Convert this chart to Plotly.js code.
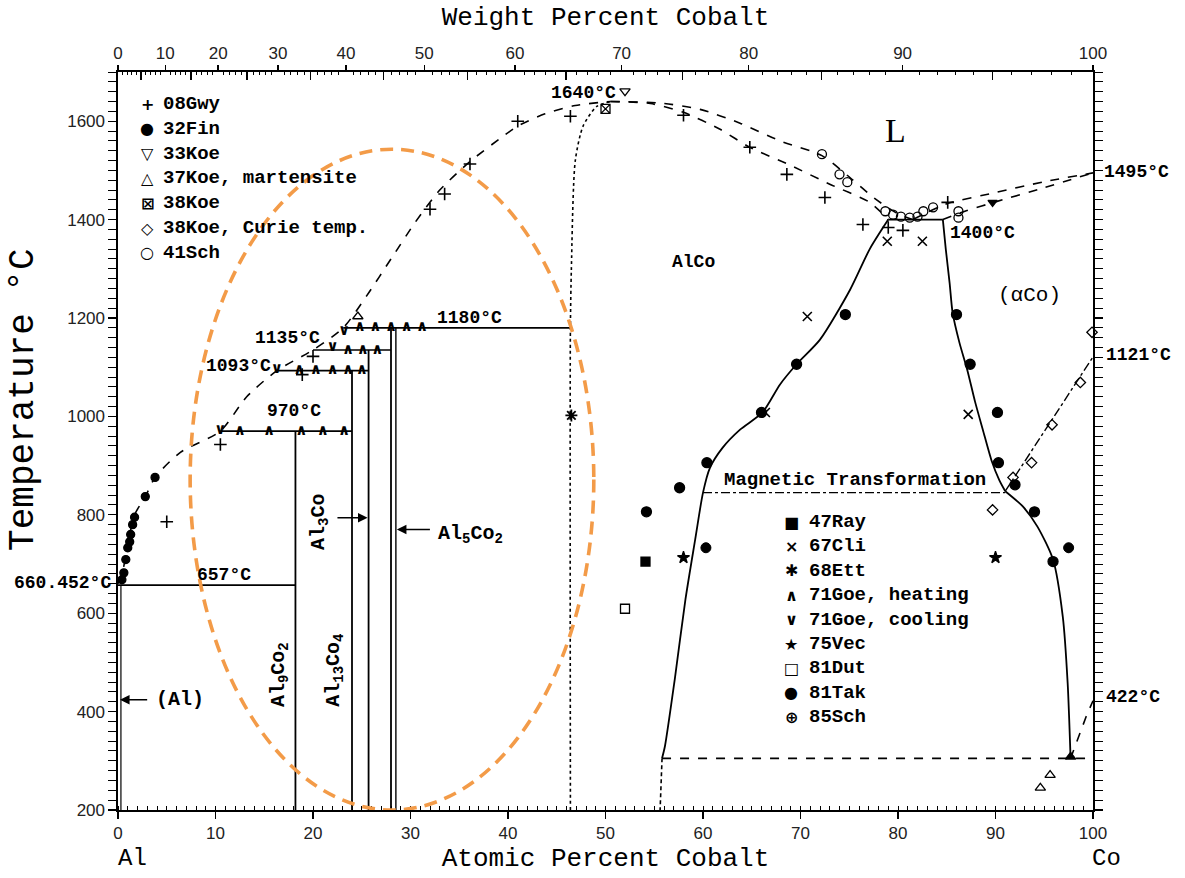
<!DOCTYPE html>
<html><head><meta charset="utf-8">
<script src="https://cdn.plot.ly/plotly-3.0.1.min.js"></script>
<style>html,body{margin:0;padding:0;background:#fff}#chart{width:1185px;height:878px}</style>
</head><body><div id="chart"></div>
<script>
// ---------- phase boundaries (at.% Co, °C) ----------
const liqAlX=[0,0.4,1.0,1.7,2.8,3.8,6.4,10.5,13.2,16.3,20,23.1,25.5,28,30.5,33,36.1,39.2,41,43.8,46.9,50.5];
const liqAlY=[660,678,739,800,837,876,927,970,1040,1093,1135,1180,1245,1320,1395,1460,1518,1565,1590,1615,1632,1640];
const al657X=[0,18.2], al657Y=[657,657];
const alSolvX=[0.3,0.3], alSolvY=[200,657];
const al9co2X=[18.2,18.2], al9co2Y=[200,970];
const per970X=[10.5,24.0], per970Y=[970,970];
const al13aX=[24.0,24.0], al13aY=[200,1093];
const per1093X=[16.3,25.7], per1093Y=[1093,1093];
const al13bX=[25.7,25.7], al13bY=[200,1135];
const per1135X=[20.0,28.0], per1135Y=[1135,1135];
const al5aX=[28.0,28.0], al5aY=[200,1180];
const al5bX=[28.5,28.5], al5bY=[200,1180];
const per1180X=[23.1,46.4], per1180Y=[1180,1180];
const alcoLX=[46.4,46.4,46.5,46.9,47.7,49.1,50.5], alcoLY=[200,1180,1300,1520,1590,1630,1640];
const solAlcoX=[50.5,54.6,58,61.7,64.8,68.9,73,77.1,79], solAlcoY=[1640,1636,1618,1584,1547,1511,1472,1435,1400];
const liqMidX=[50.5,55.6,59.7,63.8,67.9,72.2,75.1,77.6,79.9,81.5], liqMidY=[1640,1637,1624,1596,1560,1530,1485,1443,1413,1400];
const eutX=[79,84.6], eutY=[1400,1400];
const liqCoX=[81.5,85,90,95,100], liqCoY=[1400,1432,1455,1477,1495];
const solCoX=[84.6,87,90,95,100], solCoY=[1400,1418,1436,1465,1495];
const alcoRX=[79,77.1,75.1,72,69.6,67.9,66.1,63.8,62,60.7,60,59.2,58.2,57.1,56.1,55.8];
const alcoRY=[1400,1340,1258,1156,1106,1065,1008,973,936,895,845,750,628,465,330,305];
const alcoLowX=[55.8,55.6], alcoLowY=[305,200];
const acoUpX=[84.6,84.9,85.3,85.6,86.3,87.1,87.9,88.7,89.6,90.4,91.0];
const acoUpY=[1400,1340,1270,1211,1150,1095,1030,973,910,870,848];
const acoLoX=[91.0,92.8,94.3,95.9,96.9,97.4,97.7], acoLoY=[848,817,776,709,593,458,305];
const magX=[60,91], magY=[845,845];
const curieX=[91,100], curieY=[848,1121];
const martX=[55.8,99.7], martY=[305,305];
const hcpX=[97.7,99.3,100], hcpY=[305,390,422];

// ---------- experimental points ----------
const gwyX=[5,10.5,18.9,20,32,33.5,36.1,41,46.4,58,64.8,68.6,72.5,76.4,79,80.5,85.1];
const gwyY=[786,943,1085,1122,1421,1452,1513,1600,1610,1612,1547,1492,1445,1390,1384,1378,1435];
const finX=[0.4,0.6,0.8,1.0,1.2,1.3,1.5,1.7,2.8,3.8];
const finY=[668,682,709,733,745,760,780,795,837,876];
const koe33X=[52], koe33Y=[1661];
const koe37X=[24.6,94.6,95.6], koe37Y=[1203,245,271];
const koe38X=[50], koe38Y=[1625];
const curieDX=[89.7,91.8,93.7,95.8,98.7,99.9], curieDY=[810,876,906,983,1069,1171];
const schX=[72.2,74,74.8,78.7,79.5,80.3,81.2,82.0,82.6,83.6,86.2,86.2];
const schY=[1533,1492,1476,1417,1410,1406,1404,1406,1417,1425,1417,1404];
const rayX=[54.1], rayY=[705];
const cliX=[66.4,70.7,78.9,82.5,87.2], cliY=[1008,1203,1356,1356,1004];
const ettX=[46.5], ettY=[1002];
const goeHX=[12.5,15.5,18.8,21,23.2,18.6,20.3,22,23.6,25,23.6,25.1,26.6,24.8,26.4,28,29.6,31.2];
const goeHY=[970,970,970,970,970,1093,1093,1093,1093,1093,1135,1135,1135,1182,1182,1182,1182,1182];
const goeCX=[10.5,16.3,22.0,23.2], goeCY=[972,1095,1140,1174];
const vecX=[58,90], vecY=[713,713];
const dutX=[52], dutY=[609];
const takX=[54.2,57.6,60.4,66,69.6,74.6,86,87.4,90.2,90.3,92,94,95.9];
const takY=[806,855,906,1008,1106,1207,1207,1106,1008,906,861,806,705];
const sch85X=[60.3,97.5], sch85Y=[733,733];
const triFX=[97.7], triFY=[308];
const tridFX=[89.7], tridFY=[1435];

// ---------- tick labels / legend texts ----------
const wtTicks=[0,10,20,30,40,50,60,70,80,90,100];
const legend1Syms=['+','●','▽','△','⊠','◇','○'];
const legend1Names=['08Gwy','32Fin','33Koe','37Koe, martensite','38Koe','38Koe, Curie temp.','41Sch'];
const legend2Syms=['■','×','✱','∧','∨','★','□','●','⊕'];
const legend2Names=['47Ray','67Cli','68Ett','71Goe, heating','71Goe, cooling','75Vec','81Dut','81Tak','85Sch'];

function wt2at(w){const a=w/58.933,b=(100-w)/26.982;return 100*a/(a+b);}
const wtMajor=wtTicks.map(wt2at);
const wtMinorVals=[];for(let w=1;w<100;w++){if(w%5!==0)wtMinorVals.push(wt2at(w));}
const wtMidVals=[];for(let w=5;w<100;w+=10)wtMidVals.push(wt2at(w));

const K='#000';
function ln(x,y,opt){opt=opt||{};return {x:x,y:y,mode:'lines',type:'scatter',showlegend:false,hoverinfo:'skip',
  xaxis:opt.xa||'x',yaxis:opt.ya||'y',line:{color:K,width:opt.w||1.6,dash:opt.dash||'solid',shape:opt.spline?'spline':'linear',smoothing:0.7},cliponaxis:false};}
function mk(x,y,sym,size,opt){opt=opt||{};return {x:x,y:y,mode:'markers',type:'scatter',showlegend:false,hoverinfo:'skip',cliponaxis:false,
  marker:{symbol:sym,size:size,color:opt.fill||K,line:{color:K,width:opt.lw||1.3}}};}
function tx(x,y,t,size){return {x:x,y:y,mode:'text',type:'scatter',text:x.map(()=>t),showlegend:false,hoverinfo:'skip',cliponaxis:false,
  textposition:'middle center',textfont:{family:'DejaVu Sans',size:size,color:K,weight:'bold'}};}

const traces=[
  ln([],[],{ya:'y2'}),
  ln(liqAlX,liqAlY,{dash:'dash',spline:true}),
  ln(al657X,al657Y),ln(alSolvX,alSolvY,{w:1.2}),
  ln(al9co2X,al9co2Y,{w:1.8}),ln(per970X,per970Y),
  ln(al13aX,al13aY,{w:1.8}),ln(per1093X,per1093Y),
  ln(al13bX,al13bY,{w:1.8}),ln(per1135X,per1135Y),
  ln(al5aX,al5aY,{w:1.8}),ln(al5bX,al5bY,{w:1.4}),ln(per1180X,per1180Y),
  ln(alcoLX,alcoLY,{dash:'3px,3px',spline:true}),
  ln(solAlcoX,solAlcoY,{dash:'dash',spline:true}),
  ln(liqMidX,liqMidY,{dash:'dash',spline:true}),
  ln(eutX,eutY),
  ln(liqCoX,liqCoY,{dash:'dash',spline:true}),
  ln(solCoX,solCoY,{dash:'dash',spline:true}),
  ln(alcoRX,alcoRY,{w:1.8,spline:true}),
  ln(alcoLowX,alcoLowY,{dash:'4px,3px'}),
  ln(acoUpX,acoUpY,{w:1.8,spline:true}),
  ln(acoLoX,acoLoY,{w:1.8,spline:true}),
  ln(magX,magY,{dash:'dashdot',w:1.4,xa:'x2'}),
  ln(curieX,curieY,{dash:'dashdot',w:1.4,xa:'x3'}),
  ln(martX,martY,{dash:'dash',w:1.6}),
  ln(hcpX,hcpY,{dash:'dash',w:1.6}),
  mk(gwyX,gwyY,'cross-thin-open',9,{lw:1.6}),
  mk(finX,finY,'circle',8),
  mk(koe33X,koe33Y,'triangle-down-open',9),
  mk(koe37X,koe37Y,'triangle-up-open',9),
  mk(koe38X,koe38Y,'square-x-open',9),
  mk(curieDX,curieDY,'diamond-open',8),
  mk(schX,schY,'circle-open',9),
  mk(rayX,rayY,'square',9),
  mk(cliX,cliY,'x-thin-open',9,{lw:1.6}),
  mk(ettX,ettY,'asterisk-open',10,{lw:1.8}),
  tx(goeHX,goeHY,'∧',15),
  tx(goeCX,goeCY,'∨',15),
  mk(vecX,vecY,'star',9),
  mk(dutX,dutY,'square-open',9),
  mk(takX,takY,'circle',10),
  mk(sch85X,sch85Y,'circle-cross',10,{fill:K,lw:1}),
  mk(triFX,triFY,'triangle-up',9),
  mk(tridFX,tridFY,'triangle-down',8)
];

const LF={family:'Liberation Mono',size:18,color:K,weight:'bold'};
const BF={family:'Liberation Mono',size:20,color:K,weight:'bold'};
function ann(x,y,t,o){o=o||{};return Object.assign({x:x,y:y,xref:'x',yref:'y',text:t,showarrow:false,font:LF,xanchor:'center',yanchor:'middle'},o);}
// paper-referenced label (for texts outside the axes range): x in at.%, y in °C
function pann(x,y,t,o){o=o||{};return Object.assign({x:x/100,y:(y-200)/1500,xref:'paper',yref:'paper',text:t,showarrow:false,font:LF,xanchor:'center',yanchor:'middle'},o);}
function arrow(x,ax,y){return {x:x,y:y,ax:ax,ay:y,xref:'x',yref:'y',axref:'x',ayref:'y',text:' ',showarrow:true,arrowhead:2,arrowsize:1.2,arrowwidth:1.6,arrowcolor:K};}
const annotations=[
  ann(47.7,1658,'1640°C'),
  ann(79.7,1582,'L',{font:{family:'Liberation Serif',size:34,color:K}}),
  ann(59,1314,'AlCo'),
  ann(93.5,1245,'(αCo)',{font:{family:'Liberation Mono',size:21,color:K}}),
  pann(100.9,1497,'1495°C',{xanchor:'left'}),
  ann(85.1,1373,'1400°C',{xanchor:'left'}),
  pann(101.1,1125,'1121°C',{xanchor:'left'}),
  pann(101.1,430,'422°C',{xanchor:'left'}),
  pann(-0.5,661,'660.452°C',{xanchor:'right'}),
  ann(10.9,678,'657°C'),
  ann(18.05,1012,'970°C'),
  ann(12.4,1103,'1093°C'),
  ann(17.4,1159,'1135°C'),
  ann(36.1,1200,'1180°C'),
  ann(75.6,871,'Magnetic Transformation',{font:{family:'Liberation Mono',size:19,color:K,weight:'bold'}}),
  ann(6.4,424,'(Al)',{font:BF}),
  ann(32.6,760,'Al<sub>5</sub>Co<sub>2</sub>',{xanchor:'left',font:BF}),
  ann(20.6,785,'Al<sub>3</sub>Co',{textangle:-90,font:BF}),
  ann(22.2,484,'Al<sub>13</sub>Co<sub>4</sub>',{textangle:-90,font:BF}),
  ann(16.5,476,'Al<sub>9</sub>Co<sub>2</sub>',{textangle:-90,font:BF}),
  arrow(0.2,3.3,424),
  arrow(25.6,22.2,794),
  arrow(28.6,32.3,770),
  {x:0.015,y:-0.066,xref:'paper',yref:'paper',text:'Al',showarrow:false,xanchor:'center',yanchor:'middle',font:{family:'Liberation Mono',size:24,color:K}},
  {x:1.014,y:-0.066,xref:'paper',yref:'paper',text:'Co',showarrow:false,xanchor:'center',yanchor:'middle',font:{family:'Liberation Mono',size:24,color:K}}
];
const LGF={family:'Liberation Mono',size:19,color:K,weight:'bold'};
const SGF={family:'DejaVu Sans',size:16,color:K,weight:'bold'};
legend1Names.forEach((n,i)=>{
  const py=104+i*24.8, y=(810-py)/738;
  annotations.push({xref:'paper',yref:'paper',x:(147-118)/975,y:y,text:legend1Syms[i],showarrow:false,font:SGF,xanchor:'center',yanchor:'middle'});
  annotations.push({xref:'paper',yref:'paper',x:(161-118)/975,y:y,text:n,showarrow:false,font:LGF,xanchor:'left',yanchor:'middle'});
});
legend2Names.forEach((n,i)=>{
  const py=522+i*24.4, y=(810-py)/738;
  annotations.push({xref:'paper',yref:'paper',x:(791-118)/975,y:y,text:legend2Syms[i],showarrow:false,font:SGF,xanchor:'center',yanchor:'middle'});
  annotations.push({xref:'paper',yref:'paper',x:(807-118)/975,y:y,text:n,showarrow:false,font:LGF,xanchor:'left',yanchor:'middle'});
});

const TF={family:'Liberation Sans',size:17,color:'#222'};
const layout={
  width:1185,height:878,margin:{l:118,r:92,t:72,b:68},
  paper_bgcolor:'#fff',plot_bgcolor:'rgba(0,0,0,0)',showlegend:false,
  font:{family:'Liberation Sans',color:K},
  xaxis:{range:[0,100],tickmode:'linear',tick0:0,dtick:10,ticks:'outside',ticklen:7,tickwidth:1.3,tickcolor:K,
    showline:true,linecolor:K,linewidth:1.6,showgrid:false,zeroline:false,tickfont:TF,
    minor:{dtick:1,ticks:'inside',ticklen:4,tickcolor:K,tickwidth:1,showgrid:false},
    title:{text:'Atomic Percent Cobalt',font:{family:'Liberation Mono',size:26,color:K},standoff:6}},
  xaxis2:{overlaying:'x',side:'top',range:[0,100],tickmode:'array',tickvals:wtMajor,ticktext:wtTicks.map(String),
    ticks:'outside',ticklen:5,tickwidth:1.3,tickcolor:K,showline:true,linecolor:K,linewidth:1.6,showgrid:false,zeroline:false,tickfont:TF,
    minor:{tickmode:'array',tickvals:wtMinorVals,ticks:'inside',ticklen:3,tickcolor:K,tickwidth:1,showgrid:false},
    title:{text:'Weight Percent Cobalt',font:{family:'Liberation Mono',size:26,color:K},standoff:10}},
  xaxis3:{overlaying:'x',side:'top',range:[0,100],tickmode:'array',tickvals:wtMidVals,
    ticks:'inside',ticklen:8,tickwidth:1.3,tickcolor:K,showline:false,showgrid:false,zeroline:false,showticklabels:false},
  yaxis:{range:[200,1700],tickmode:'array',tickvals:[200,400,600,800,1000,1200,1400,1600],ticks:'outside',ticklen:8,tickwidth:1.3,tickcolor:K,
    showline:true,linecolor:K,linewidth:1.6,mirror:'allticks',showgrid:false,zeroline:false,tickfont:TF,
    minor:{dtick:20,tick0:200,ticks:'outside',ticklen:4,tickcolor:K,tickwidth:1,showgrid:false}},
  // title-only axis: its domain sets where the y title is centred
  yaxis2:{domain:[0.112,1],anchor:'free',position:0,side:'left',range:[0,1],showline:false,ticks:'',showticklabels:false,
    showgrid:false,zeroline:false,automargin:false,
    title:{text:'Temperature °C',font:{family:'Liberation Mono',size:36,color:K},standoff:72}},
  shapes:[{type:'circle',xref:'x',yref:'y',x0:7.4,x1:48.8,y0:200,y1:1543,line:{color:'#F39B48',width:3.6,dash:'13px,8px'}}],
  annotations:annotations
};
Plotly.newPlot('chart',traces,layout,{displayModeBar:false,staticPlot:true});
</script></body></html>
